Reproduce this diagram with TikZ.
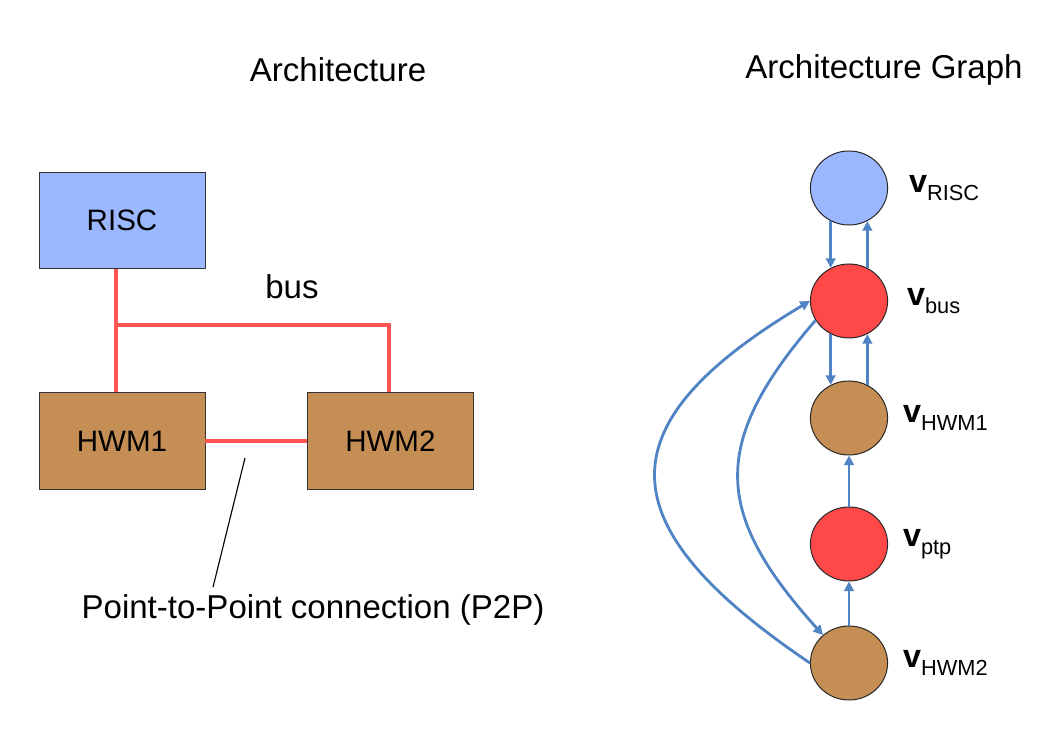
\documentclass[tikz,border=0pt]{standalone}
\usepackage{fontspec}
\setmainfont{Liberation Sans}
\definecolor{riscblue}{RGB}{155,183,255}
\definecolor{hwmbrown}{RGB}{197,142,85}
\definecolor{busred}{RGB}{255,72,72}
\definecolor{wirered}{RGB}{255,85,85}
\definecolor{edgeblue}{RGB}{79,131,196}
\usetikzlibrary{positioning,shapes,arrows.meta}
\newcommand{\vsub}[1]{\textbf{v}\raisebox{-0.26em}{\fontsize{15.5}{18}\selectfont #1}}

\begin{document}
\begin{tikzpicture}[
    module/.style={rectangle, minimum width=4.15cm, minimum height=2.4cm, text centered, draw=black!80, line width=0.7pt, fill=hwmbrown, font=\fontsize{21}{25}\selectfont},
    vertex/.style={ellipse, minimum width=1.93cm, minimum height=1.85cm, inner sep=0pt, draw=black!85, line width=0.7pt, fill=hwmbrown},
    vlabel/.style={font=\fontsize{23}{27}\selectfont},
    title/.style={font=\fontsize{23.5}{28}\selectfont},
    wire/.style={line width=2.2pt, draw=wirered},
    edge/.style={-{Triangle[length=2.4mm, width=2.4mm]}, line width=2pt, draw=edgeblue},
    node distance=0.45cm
]
    \useasboundingbox (0,0) rectangle (26.45,18.4);

    % architecture
    \node[title] (archT) at (8.45,16.65) {Architecture};
    \node[module, fill=riscblue] (risc) at (3.05,12.89) {RISC};
    \node[module] (hwm1) at (3.05,7.375) {HWM1};
    \node[module] (hwm2) at (9.76,7.375) {HWM2};

    \coordinate (busL) at (2.9,10.275);
    \coordinate (busR) at (9.725,10.275);
    \draw[wire] (risc.south -| busL) -- (hwm1.north -| busL);
    \draw[wire] (busL) -- (busR) -- (hwm2.north -| busR);
    \node[title] (busT) at (7.3,11.225) {bus};

    \draw[wire] (hwm1.east) -- (hwm2.west);
    \node[title] (p2p) at (7.825,3.15) {Point-to-Point connection (P2P)};
    \coordinate (p2pTip) at (6.125,6.95);
    \coordinate (p2pEnd) at (5.325,3.72);
    \draw[line width=0.8pt] (p2pTip) -- (p2pEnd);

    % architecture graph
    \node[title] (graphT) at (22.1,16.65) {Architecture Graph};
    \node[vertex, fill=riscblue] (vRISC) at (21.225,13.7) {};
    \node[vertex, fill=busred] (vbus) at (21.225,10.875) {};
    \node[vertex] (vHWM1) at (21.225,7.95) {};
    \node[vertex, fill=busred] (vptp) at (21.225,4.8) {};
    \node[vertex] (vHWM2) at (21.225,1.825) {};

    \node[vlabel, right=0.4cm of vRISC] (lRISC) {\vsub{RISC}};
    \node[vlabel, right=0.35cm of vbus] (lbus) {\vsub{bus}};
    \node[vlabel, right=0.25cm of vHWM1] (lHWM1) {\vsub{HWM1}};
    \node[vlabel, right=0.25cm of vptp] (lptp) {\vsub{ptp}};
    \node[vlabel, right=0.25cm of vHWM2] (lHWM2) {\vsub{HWM2}};

    \draw[edge] (vRISC.-119) -- (vbus.119);
    \draw[edge] (vbus.61) -- (vRISC.-61);
    \draw[edge] (vbus.-119) -- (vHWM1.119);
    \draw[edge] (vHWM1.61) -- (vbus.-61);
    \draw[edge] (vptp) -- (vHWM1);
    \draw[edge] (vHWM2) -- (vptp);
    \draw[edge] (vHWM2.west) .. controls (15.1,5.3) and (15.1,7.8) .. (vbus.west);
    \draw[edge] (vbus.210) .. controls (17.71,7.29) and (17.86,5.54) .. (vHWM2.133);
\end{tikzpicture}
\end{document}
